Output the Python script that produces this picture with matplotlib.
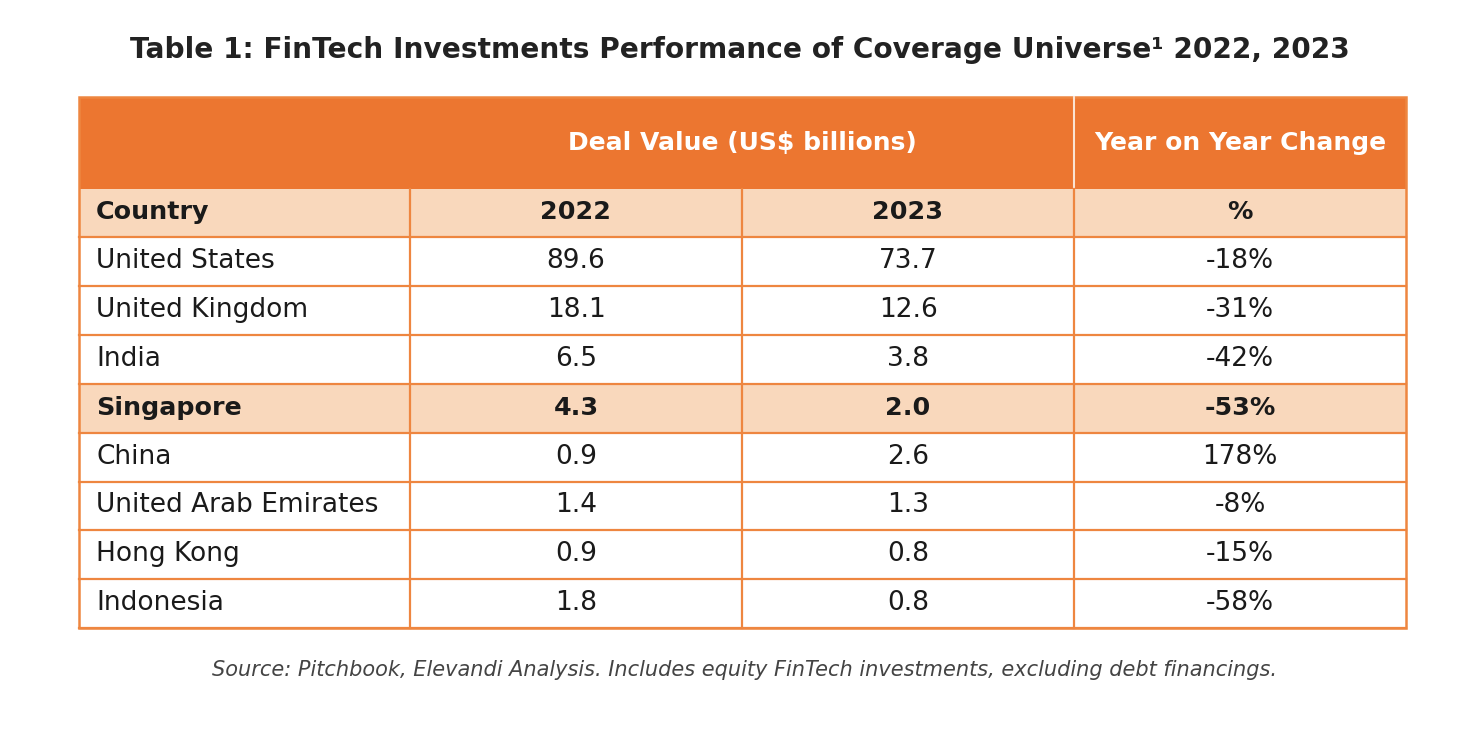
import matplotlib
matplotlib.use("Agg")
import matplotlib.pyplot as plt
from matplotlib.patches import Rectangle

plt.rcParams['font.family'] = ['DejaVu Sans']

# data
title = "Table 1: FinTech Investments Performance of Coverage Universe\u00b9 2022, 2023"
source = "Source: Pitchbook, Elevandi Analysis. Includes equity FinTech investments, excluding debt financings."
group_headers = ["Deal Value (US$ billions)", "Year on Year Change"]
col_headers = ["Country", "2022", "2023", "%"]
countries = ["United States", "United Kingdom", "India", "Singapore", "China",
             "United Arab Emirates", "Hong Kong", "Indonesia"]
val_2022 = ["89.6", "18.1", "6.5", "4.3", "0.9", "1.4", "0.9", "1.8"]
val_2023 = ["73.7", "12.6", "3.8", "2.0", "2.6", "1.3", "0.8", "0.8"]
yoy = ["-18%", "-31%", "-42%", "-53%", "178%", "-8%", "-15%", "-58%"]
highlight = "Singapore"

ORANGE = "#EC7630"
PEACH = "#F9D8BC"
LINE = "#EE8640"
TXT = "#1a1a1a"

W, H = 1482, 744
fig = plt.figure(figsize=(W / 100, H / 100), dpi=100)
ax = fig.add_axes([0, 0, 1, 1])
ax.set_xlim(0, W)
ax.set_ylim(H, 0)
ax.axis("off")

# layout
col_x = [79, 410, 742, 1074, 1406]
top = 97
head_h = 92
sub_h = 48
row_h = 48.9
sub_top = top + head_h
body_top = sub_top + sub_h
bottom = body_top + row_h * len(countries)
fs = 19
fs_b = 18.3
fs_h = 18

ax.text(740, 58, title, ha="center", va="baseline", fontsize=20.2,
        fontweight="bold", color="#222222")

# header band
ax.add_patch(Rectangle((col_x[0], top), col_x[4] - col_x[0], head_h,
                       facecolor=ORANGE, edgecolor="none"))
ax.plot([col_x[3], col_x[3]], [top, sub_top], color="#FBE3D2", lw=1.5)
ax.text((col_x[1] + col_x[3]) / 2, top + 53, group_headers[0],
        ha="center", va="baseline", fontsize=fs_h, fontweight="bold", color="white")
ax.text((col_x[3] + col_x[4]) / 2, top + 53, group_headers[1],
        ha="center", va="baseline", fontsize=fs_h, fontweight="bold", color="white")

# sub header
ax.add_patch(Rectangle((col_x[0], sub_top), col_x[4] - col_x[0], sub_h,
                       facecolor=PEACH, edgecolor="none"))
for j, h in enumerate(col_headers):
    if j == 0:
        ax.text(col_x[0] + 17, sub_top + 30, h, ha="left", va="baseline",
                fontsize=fs_b, fontweight="bold", color=TXT)
    else:
        ax.text((col_x[j] + col_x[j + 1]) / 2, sub_top + 30, h,
                ha="center", va="baseline", fontsize=fs_b, fontweight="bold", color=TXT)

# body rows
for i, c in enumerate(countries):
    y0 = body_top + i * row_h
    yb = y0 + 31
    bold = c == highlight
    if bold:
        ax.add_patch(Rectangle((col_x[0], y0), col_x[4] - col_x[0], row_h,
                               facecolor=PEACH, edgecolor="none"))
    fw = "bold" if bold else "normal"
    size = fs_b if bold else fs
    ax.text(col_x[0] + 17, yb, c, ha="left", va="baseline", fontsize=size,
            fontweight=fw, color=TXT)
    for j, v in enumerate([val_2022[i], val_2023[i], yoy[i]]):
        ax.text((col_x[j + 1] + col_x[j + 2]) / 2, yb, v, ha="center",
                va="baseline", fontsize=size, fontweight=fw, color=TXT)

# grid lines
for k in range(len(countries) + 1):
    y = body_top + k * row_h
    ax.plot([col_x[0], col_x[4]], [y, y], color=LINE, lw=1.6)
for x in col_x[1:4]:
    ax.plot([x, x], [sub_top, bottom], color=LINE, lw=1.6)
ax.add_patch(Rectangle((col_x[0], top), col_x[4] - col_x[0], bottom - top,
                       facecolor="none", edgecolor=LINE, lw=1.8))

ax.text(744, 676, source, ha="center", va="baseline", fontsize=15,
        style="italic", color="#444444")

fig.savefig("out.png", dpi=100)
